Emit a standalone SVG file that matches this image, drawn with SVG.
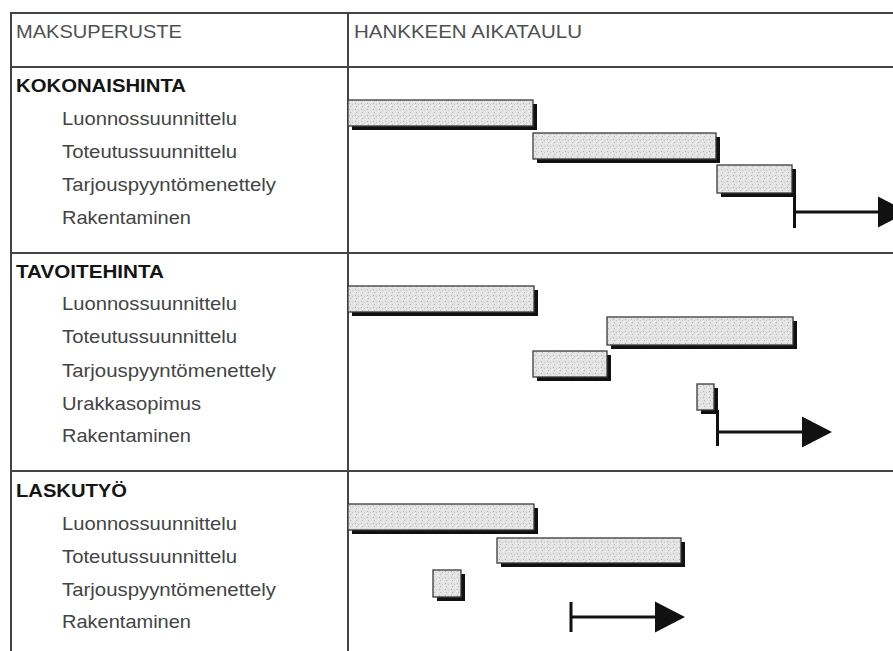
<svg xmlns="http://www.w3.org/2000/svg" width="893" height="651" viewBox="0 0 893 651">
  <defs>
    <style>
      .grid { stroke: #444; stroke-width: 2; fill: none; }
      .txt { font-family: "Liberation Sans", Arial, sans-serif; font-size: 18.5px; }
      .head { fill: #505050; }
      .group { fill: #151515; font-weight: bold; }
      .task { fill: #444; }
      .shadow { fill: #111; }
      .bar { fill: url(#stipple); stroke: #3a3a3a; stroke-width: 1.3; }
      .tick { stroke: #111; stroke-width: 3; }
      .flow { stroke: #111; stroke-width: 3; fill: none; marker-end: url(#head); }
    </style>
    <!-- speckled light grey fill used inside every bar -->
    <pattern id="stipple" width="6" height="6" patternUnits="userSpaceOnUse">
      <rect width="6" height="6" fill="#e3e3e3"/>
      <rect x="1" y="1" width="1" height="1" fill="#b5b5b5"/>
      <rect x="4" y="2" width="1" height="1" fill="#c8c8c8"/>
      <rect x="2" y="4" width="1" height="1" fill="#bcbcbc"/>
      <rect x="5" y="5" width="1" height="1" fill="#f6f6f6"/>
      <rect x="0" y="3" width="1" height="1" fill="#f4f4f4"/>
    </pattern>
    <marker id="head" markerUnits="userSpaceOnUse" markerWidth="30" markerHeight="31" refX="0" refY="15.5" orient="auto" overflow="visible">
      <path d="M0,0 L30,15.5 L0,31 Z" fill="#111"/>
    </marker>
  </defs>

  <rect width="893" height="651" fill="#ffffff"/>

  <!-- table rules -->
  <g id="table">
    <line class="grid" x1="11" y1="13" x2="893" y2="13"/>
    <line class="grid" x1="11" y1="67" x2="893" y2="67"/>
    <line class="grid" x1="11" y1="253" x2="893" y2="253"/>
    <line class="grid" x1="11" y1="471" x2="893" y2="471"/>
    <line class="grid" x1="11" y1="12" x2="11" y2="651"/>
    <line class="grid" x1="348" y1="12" x2="348" y2="651"/>
  </g>

  <!-- column headers -->
  <g id="header" class="txt head">
    <text x="16" y="38" textLength="166" lengthAdjust="spacingAndGlyphs">MAKSUPERUSTE</text>
    <text x="354" y="38" textLength="228" lengthAdjust="spacingAndGlyphs">HANKKEEN AIKATAULU</text>
  </g>

  <!-- section 1 -->
  <g id="kokonaishinta">
    <g class="txt">
      <text class="group" x="16" y="92" textLength="170" lengthAdjust="spacingAndGlyphs">KOKONAISHINTA</text>
      <text class="task" x="62" y="125" textLength="175" lengthAdjust="spacingAndGlyphs">Luonnossuunnittelu</text>
      <text class="task" x="62" y="158" textLength="175" lengthAdjust="spacingAndGlyphs">Toteutussuunnittelu</text>
      <text class="task" x="62" y="191" textLength="214" lengthAdjust="spacingAndGlyphs">Tarjouspyyntömenettely</text>
      <text class="task" x="62" y="224" textLength="129" lengthAdjust="spacingAndGlyphs">Rakentaminen</text>
    </g>
    <g id="k-luonnos">
      <rect class="shadow" x="352" y="104" width="185" height="26"/>
      <rect class="bar" x="348" y="100" width="185" height="26"/>
    </g>
    <g id="k-toteutus">
      <rect class="shadow" x="537" y="137" width="183" height="26"/>
      <rect class="bar" x="533" y="133" width="183" height="26"/>
    </g>
    <g id="k-tarjous">
      <rect class="shadow" x="721" y="169" width="75" height="28"/>
      <rect class="bar" x="717" y="165" width="75" height="28"/>
    </g>
  </g>

  <!-- section 2 -->
  <g id="tavoitehinta">
    <g class="txt">
      <text class="group" x="16" y="278" textLength="148" lengthAdjust="spacingAndGlyphs">TAVOITEHINTA</text>
      <text class="task" x="62" y="310" textLength="175" lengthAdjust="spacingAndGlyphs">Luonnossuunnittelu</text>
      <text class="task" x="62" y="343" textLength="175" lengthAdjust="spacingAndGlyphs">Toteutussuunnittelu</text>
      <text class="task" x="62" y="377" textLength="214" lengthAdjust="spacingAndGlyphs">Tarjouspyyntömenettely</text>
      <text class="task" x="62" y="410" textLength="139" lengthAdjust="spacingAndGlyphs">Urakkasopimus</text>
      <text class="task" x="62" y="442" textLength="129" lengthAdjust="spacingAndGlyphs">Rakentaminen</text>
    </g>
    <g id="t-luonnos">
      <rect class="shadow" x="352" y="290" width="186" height="26"/>
      <rect class="bar" x="348" y="286" width="186" height="26"/>
    </g>
    <g id="t-toteutus">
      <rect class="shadow" x="611" y="321" width="186" height="28"/>
      <rect class="bar" x="607" y="317" width="186" height="28"/>
    </g>
    <g id="t-tarjous">
      <rect class="shadow" x="537" y="355" width="74" height="26"/>
      <rect class="bar" x="533" y="351" width="74" height="26"/>
    </g>
    <g id="t-urakka">
      <rect class="shadow" x="701" y="388" width="17" height="26"/>
      <rect class="bar" x="697" y="384" width="17" height="26"/>
    </g>
  </g>

  <!-- section 3 -->
  <g id="laskutyo">
    <g class="txt">
      <text class="group" x="16" y="497" textLength="111" lengthAdjust="spacingAndGlyphs">LASKUTYÖ</text>
      <text class="task" x="62" y="530" textLength="175" lengthAdjust="spacingAndGlyphs">Luonnossuunnittelu</text>
      <text class="task" x="62" y="563" textLength="175" lengthAdjust="spacingAndGlyphs">Toteutussuunnittelu</text>
      <text class="task" x="62" y="596" textLength="214" lengthAdjust="spacingAndGlyphs">Tarjouspyyntömenettely</text>
      <text class="task" x="62" y="628" textLength="129" lengthAdjust="spacingAndGlyphs">Rakentaminen</text>
    </g>
    <g id="l-luonnos">
      <rect class="shadow" x="352" y="508" width="186" height="26"/>
      <rect class="bar" x="348" y="504" width="186" height="26"/>
    </g>
    <g id="l-toteutus">
      <rect class="shadow" x="501" y="542" width="184" height="25"/>
      <rect class="bar" x="497" y="538" width="184" height="25"/>
    </g>
    <g id="l-tarjous">
      <rect class="shadow" x="437" y="574" width="28" height="27"/>
      <rect class="bar" x="433" y="570" width="28" height="27"/>
    </g>
  </g>

  <!-- construction phase arrows -->
  <g id="connectors">
    <line class="tick" x1="794.5" y1="193" x2="794.5" y2="228"/>
    <line class="flow" x1="794" y1="212" x2="878" y2="212"/>
    <line class="tick" x1="717.5" y1="410" x2="717.5" y2="446"/>
    <line class="flow" x1="717" y1="432" x2="802" y2="432"/>
    <line class="tick" x1="571" y1="602" x2="571" y2="632"/>
    <line class="flow" x1="571" y1="617" x2="655" y2="617"/>
  </g>
</svg>
